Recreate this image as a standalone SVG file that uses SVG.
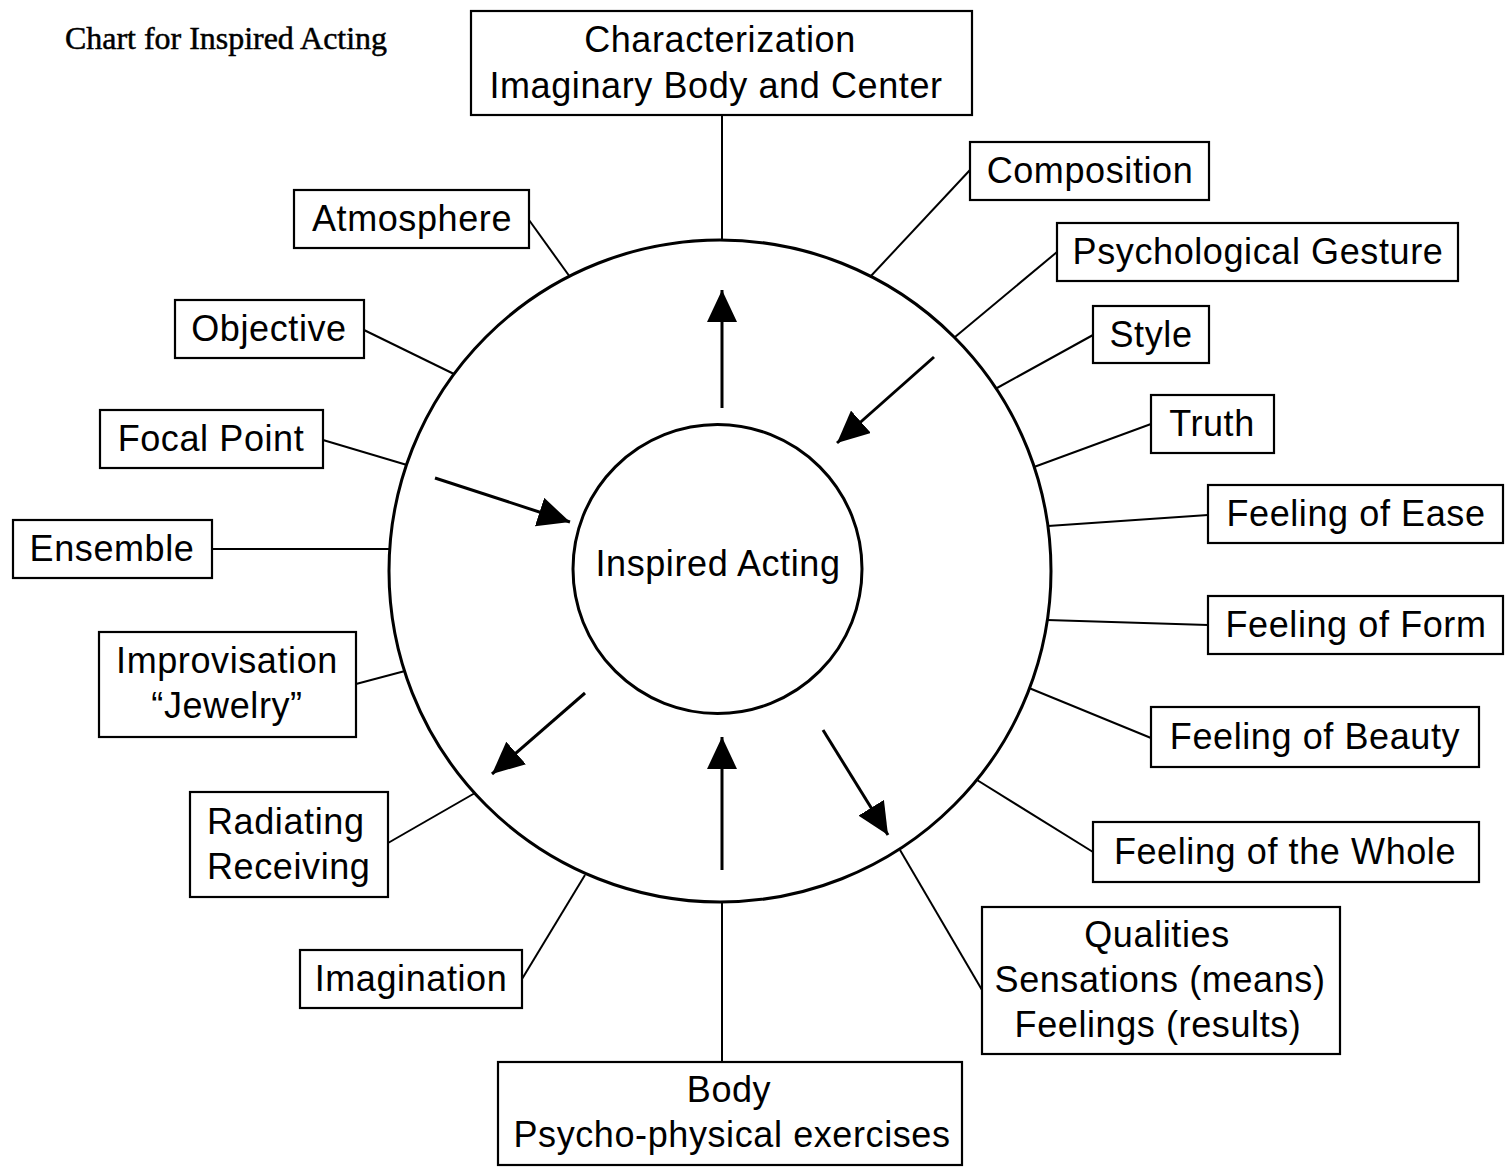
<svg xmlns="http://www.w3.org/2000/svg" width="1511" height="1168" viewBox="0 0 1511 1168">
<style>
.box{fill:#fff;stroke:#000;stroke-width:2.2}
.t{font-family:"Liberation Sans",Arial,sans-serif;font-size:36px;letter-spacing:0.6px;fill:#000;text-anchor:middle}
.l{text-anchor:start}
.c{fill:none;stroke:#000;stroke-width:3}
.con line{stroke:#000;stroke-width:2}
.arr line{stroke:#000;stroke-width:3}
</style>
<defs>
<marker id="ar" viewBox="0 0 32 30" refX="32" refY="15" markerWidth="32" markerHeight="30" markerUnits="userSpaceOnUse" orient="auto">
<path d="M0,0 L32,15 L0,30 Z" fill="#000"/>
</marker>
</defs>
<rect width="1511" height="1168" fill="#fff"/>
<text x="65" y="49" font-family="Liberation Serif,Times New Roman,serif" font-size="32" textLength="322" lengthAdjust="spacingAndGlyphs" stroke="#000" stroke-width="0.5">Chart for Inspired Acting</text>

<g id="connectors" class="con">
<line x1="722" y1="115" x2="722" y2="240"/>
<line x1="529" y1="220" x2="570" y2="277"/>
<line x1="364" y1="330" x2="454" y2="374"/>
<line x1="323" y1="440" x2="407" y2="465"/>
<line x1="212" y1="549" x2="390" y2="549"/>
<line x1="356" y1="684" x2="405" y2="671"/>
<line x1="388" y1="843" x2="475" y2="793"/>
<line x1="522" y1="979" x2="585" y2="875"/>
<line x1="722" y1="1062" x2="722" y2="902"/>
<line x1="982" y1="990" x2="900" y2="850"/>
<line x1="1093" y1="852" x2="977" y2="780"/>
<line x1="1151" y1="738" x2="1029" y2="688"/>
<line x1="1208" y1="625" x2="1047" y2="620"/>
<line x1="1208" y1="515" x2="1048" y2="526"/>
<line x1="1151" y1="424" x2="1034" y2="467"/>
<line x1="1093" y1="335" x2="997" y2="388"/>
<line x1="1057" y1="252" x2="955" y2="337"/>
<line x1="970" y1="170" x2="870" y2="277"/>
</g>
<g id="arrows" class="arr">
<line x1="722" y1="408" x2="722" y2="290" marker-end="url(#ar)"/>
<line x1="934" y1="357" x2="837" y2="443" marker-end="url(#ar)"/>
<line x1="435" y1="478" x2="570" y2="522" marker-end="url(#ar)"/>
<line x1="585" y1="693" x2="492" y2="774" marker-end="url(#ar)"/>
<line x1="722" y1="870" x2="722" y2="737" marker-end="url(#ar)"/>
<line x1="823" y1="730" x2="888" y2="835" marker-end="url(#ar)"/>
</g>

<g id="outer-circle"><circle class="c" cx="720" cy="571" r="331"/></g>
<g id="inspired-acting"><circle class="c" cx="717.5" cy="569" r="144.5"/><text class="t" x="718" y="576">Inspired Acting</text></g>

<g id="characterization"><rect class="box" x="471" y="11" width="501" height="104"/><text class="t" x="720" y="52">Characterization</text><text class="t" x="716" y="98">Imaginary Body and Center</text></g>
<g id="atmosphere"><rect class="box" x="294" y="190" width="235" height="58"/><text class="t" x="412" y="231">Atmosphere</text></g>
<g id="objective"><rect class="box" x="175" y="300" width="189" height="58"/><text class="t" x="269" y="341">Objective</text></g>
<g id="focal-point"><rect class="box" x="100" y="410" width="223" height="58"/><text class="t" x="211" y="451">Focal Point</text></g>
<g id="ensemble"><rect class="box" x="13" y="520" width="199" height="58"/><text class="t" x="112" y="561">Ensemble</text></g>
<g id="improvisation"><rect class="box" x="99" y="632" width="257" height="105"/><text class="t" x="227" y="673">Improvisation</text><text class="t" x="227" y="718">“Jewelry”</text></g>
<g id="radiating"><rect class="box" x="190" y="792" width="198" height="105"/><text class="t l" x="207" y="834">Radiating</text><text class="t l" x="207" y="879">Receiving</text></g>
<g id="imagination"><rect class="box" x="300" y="950" width="222" height="58"/><text class="t" x="411" y="991">Imagination</text></g>
<g id="body"><rect class="box" x="498" y="1062" width="464" height="103"/><text class="t" x="729" y="1102">Body</text><text class="t" x="732" y="1147">Psycho-physical exercises</text></g>
<g id="qualities"><rect class="box" x="982" y="907" width="358" height="147"/><text class="t" x="1157" y="947">Qualities</text><text class="t" x="1160" y="992">Sensations (means)</text><text class="t" x="1158" y="1037">Feelings (results)</text></g>
<g id="feeling-whole"><rect class="box" x="1093" y="822" width="386" height="60"/><text class="t" x="1285" y="864">Feeling of the Whole</text></g>
<g id="feeling-beauty"><rect class="box" x="1151" y="707" width="328" height="60"/><text class="t" x="1315" y="749">Feeling of Beauty</text></g>
<g id="feeling-form"><rect class="box" x="1208" y="596" width="295" height="58"/><text class="t" x="1356" y="637">Feeling of Form</text></g>
<g id="feeling-ease"><rect class="box" x="1208" y="485" width="295" height="58"/><text class="t" x="1356" y="526">Feeling of Ease</text></g>
<g id="truth"><rect class="box" x="1151" y="395" width="123" height="58"/><text class="t" x="1212" y="436">Truth</text></g>
<g id="style"><rect class="box" x="1093" y="306" width="116" height="57"/><text class="t" x="1151" y="347">Style</text></g>
<g id="psychological-gesture"><rect class="box" x="1057" y="223" width="401" height="58"/><text class="t" x="1258" y="264">Psychological Gesture</text></g>
<g id="composition"><rect class="box" x="970" y="142" width="239" height="58"/><text class="t" x="1090" y="183">Composition</text></g>
</svg>
